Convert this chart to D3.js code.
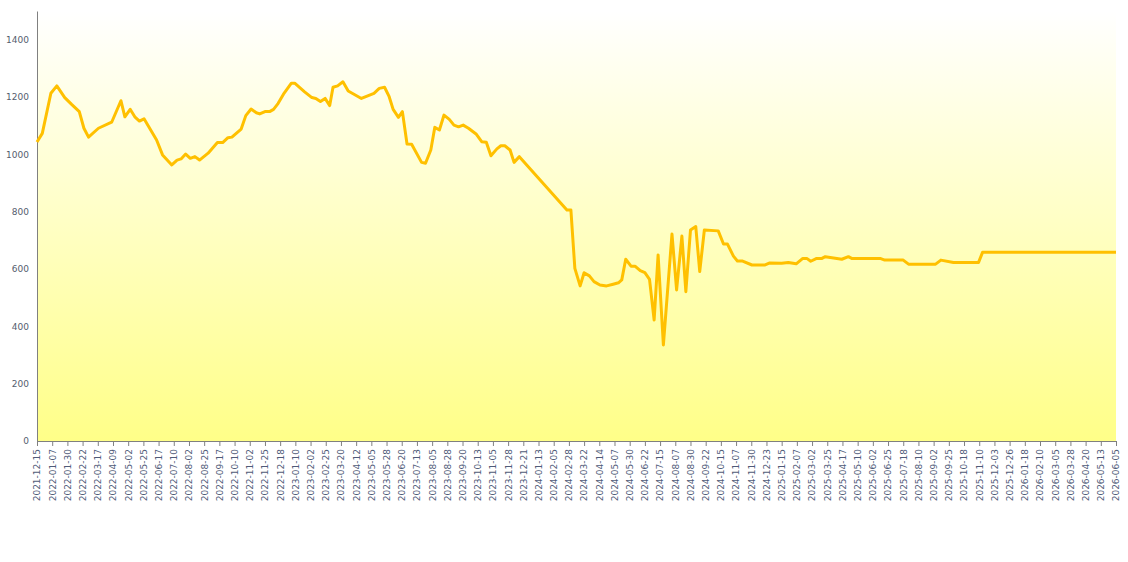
<!DOCTYPE html>
<html>
<head>
<meta charset="utf-8">
<script src="https://cdn.jsdelivr.net/npm/d3@7"></script>
<style>
  body { margin: 0; background: #fff; }
  svg { display: block; }
</style>
</head>
<body>
<svg id="chart"></svg>
<script>
// Series
const dates = [
  "2021-12-15","2021-12-23","2022-01-05","2022-01-14","2022-01-26","2022-02-05","2022-02-17","2022-02-24","2022-03-03","2022-03-18",
  "2022-04-07","2022-04-21","2022-04-27","2022-05-05","2022-05-12","2022-05-19","2022-05-26","2022-06-14","2022-06-23","2022-07-07",
  "2022-07-15","2022-07-21","2022-07-28","2022-08-04","2022-08-11","2022-08-18","2022-08-31","2022-09-14","2022-09-22","2022-09-30",
  "2022-10-06","2022-10-20","2022-10-27","2022-11-04","2022-11-12","2022-11-17","2022-11-25","2022-12-02","2022-12-08","2022-12-15",
  "2022-12-23","2023-01-04","2023-01-09","2023-01-24",
  "2023-02-04","2023-02-10","2023-02-17","2023-02-24","2023-03-03","2023-03-08","2023-03-15","2023-03-23","2023-03-31","2023-04-20",
  "2023-05-09","2023-05-17","2023-05-25","2023-06-01","2023-06-07","2023-06-15","2023-06-21","2023-06-28","2023-07-05","2023-07-20",
  "2023-07-26","2023-08-03","2023-08-09","2023-08-16","2023-08-23","2023-08-31","2023-09-07","2023-09-14","2023-09-21","2023-09-29",
  "2023-10-11","2023-10-19","2023-10-26","2023-11-02","2023-11-11","2023-11-17","2023-11-23","2023-12-01","2023-12-07","2023-12-15",
  "2024-02-25","2024-03-02",
  "2024-03-08","2024-03-16","2024-03-22","2024-03-30","2024-04-06","2024-04-15","2024-04-25","2024-05-05","2024-05-13","2024-05-18",
  "2024-05-24","2024-06-01","2024-06-07","2024-06-15","2024-06-22","2024-06-29","2024-07-06","2024-07-12","2024-07-20","2024-08-02",
  "2024-08-09","2024-08-17","2024-08-23","2024-08-30","2024-09-07","2024-09-13","2024-09-20","2024-10-11","2024-10-19","2024-10-25",
  "2024-11-03","2024-11-09","2024-11-16","2024-12-01","2024-12-21","2024-12-28",
  "2025-01-15","2025-01-25","2025-02-06","2025-02-16","2025-02-22","2025-02-28","2025-03-09","2025-03-17","2025-03-22","2025-04-16",
  "2025-04-26","2025-05-01","2025-06-13","2025-06-20","2025-07-18","2025-07-26","2025-09-05","2025-09-13","2025-10-02","2025-11-09",
  "2025-11-15","2026-06-05"
];
const values = [
  1043,1073,1213,1239,1198,1175,1149,1091,1060,1091,
  1112,1187,1131,1157,1131,1116,1124,1050,998,963,
  980,984,1001,986,992,980,1004,1041,1041,1058,
  1060,1088,1135,1158,1145,1141,1149,1149,1157,1178,
  1210,1248,1248,1218,
  1198,1195,1184,1195,1170,1234,1239,1253,1221,1195,
  1213,1230,1234,1201,1157,1129,1149,1036,1035,972,
  969,1015,1094,1085,1137,1122,1102,1096,1102,1091,
  1070,1044,1042,995,1019,1030,1030,1015,972,992,
  806,806,
  602,541,587,576,556,544,541,547,552,562,
  634,610,610,594,587,564,422,649,335,722,
  527,715,521,736,748,591,736,733,687,687,
  645,628,628,614,614,621,
  620,623,618,637,637,627,637,637,643,634,
  643,637,637,631,631,617,617,631,623,623,
  658,658
];

// Axis labels
const tickLabels = [
  "2021-12-15","2022-01-07","2022-01-30","2022-02-22","2022-03-17","2022-04-09","2022-05-02","2022-05-25","2022-06-17","2022-07-10",
  "2022-08-02","2022-08-25","2022-09-17","2022-10-10","2022-11-02","2022-11-25","2022-12-18","2023-01-10","2023-02-02","2023-02-25",
  "2023-03-20","2023-04-12","2023-05-05","2023-05-28","2023-06-20","2023-07-13","2023-08-05","2023-08-28","2023-09-20","2023-10-13",
  "2023-11-05","2023-11-28","2023-12-21","2024-01-13","2024-02-05","2024-02-28","2024-03-22","2024-04-14","2024-05-07","2024-05-30",
  "2024-06-22","2024-07-15","2024-08-07","2024-08-30","2024-09-22","2024-10-15","2024-11-07","2024-11-30","2024-12-23","2025-01-15",
  "2025-02-07","2025-03-02","2025-03-25","2025-04-17","2025-05-10","2025-06-02","2025-06-25","2025-07-18","2025-08-10","2025-09-02",
  "2025-09-25","2025-10-18","2025-11-10","2025-12-03","2025-12-26","2026-01-18","2026-02-10","2026-03-05","2026-03-28","2026-04-20",
  "2026-05-13","2026-06-05"
];
const yTicks = [0, 200, 400, 600, 800, 1000, 1200, 1400];

const width = 1128;
const height = 562;
const margin = { top: 11, right: 12, bottom: 121, left: 37 };

const parse = d3.utcParse("%Y-%m-%d");
const data = dates.map((d, i) => ({ date: parse(d), value: values[i] }));
const tickDates = tickLabels.map(parse);

const svg = d3.select("#chart").attr("width", width).attr("height", height);

const x = d3.scaleUtc()
  .domain([tickDates[0], tickDates[tickDates.length - 1]])
  .range([margin.left, width - margin.right]);

const y = d3.scaleLinear()
  .domain([0, 1500])
  .range([height - margin.bottom, margin.top]);

// fond dégradé blanc -> jaune
const grad = svg.append("defs").append("linearGradient")
  .attr("id", "bg")
  .attr("x1", 0).attr("y1", 0).attr("x2", 0).attr("y2", 1);
grad.append("stop").attr("offset", "0%").attr("stop-color", "#ffffff");
grad.append("stop").attr("offset", "100%").attr("stop-color", "#ffff88");

svg.append("rect")
  .attr("x", x.range()[0])
  .attr("y", y(1500))
  .attr("width", x.range()[1] - x.range()[0])
  .attr("height", y(0) - y(1500))
  .attr("fill", "url(#bg)");

// axe Y
const yAxis = svg.append("g")
  .attr("transform", `translate(${margin.left},0)`)
  .call(d3.axisLeft(y).tickValues(yTicks).tickFormat(d3.format("d")).tickSize(0).tickPadding(8));
yAxis.select(".domain").attr("stroke", "#808080");
yAxis.selectAll("text")
  .style("font", "9px 'DejaVu Sans', Verdana, sans-serif")
  .attr("fill", "#555d6e");

// axe X
const xAxis = svg.append("g")
  .attr("transform", `translate(0,${y(0)})`)
  .call(d3.axisBottom(x)
    .tickValues(tickDates)
    .tickFormat(d3.utcFormat("%Y-%m-%d"))
    .tickSizeInner(5)
    .tickSizeOuter(0));
xAxis.select(".domain").attr("stroke", "#808080");
xAxis.selectAll(".tick line").attr("stroke", "#808080");
xAxis.selectAll("text")
  .style("font", "9px 'DejaVu Sans', Verdana, sans-serif")
  .attr("fill", "#4f5b78")
  .attr("text-anchor", "end")
  .attr("transform", "rotate(-90)")
  .attr("x", -8)
  .attr("y", 0)
  .attr("dy", "0.32em");

// la courbe
const line = d3.line()
  .x((d) => x(d.date))
  .y((d) => y(d.value));

svg.append("path")
  .datum(data)
  .attr("fill", "none")
  .attr("stroke", "#ffc000")
  .attr("stroke-width", 3)
  .attr("stroke-linejoin", "round")
  .attr("d", line);
</script>
</body>
</html>
